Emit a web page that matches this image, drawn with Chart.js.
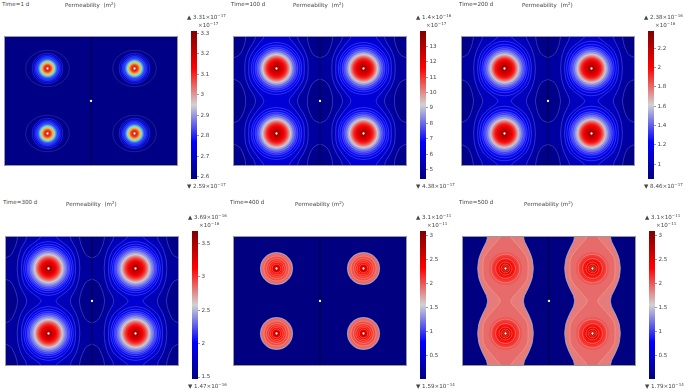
<!DOCTYPE html>
<html lang="en">
<head>
  <meta charset="UTF-8">
  <title>Permeability</title>
  <script src="https://cdn.jsdelivr.net/npm/chart.js"></script>
  <style>
    html, body { margin: 0; padding: 0; background: #fff; }
    body { position: relative; width: 685px; height: 390px; overflow: hidden; font-family: "DejaVu Sans", sans-serif; color: #444; }
    canvas { position: absolute; }
    .lbl { position: absolute; white-space: pre; font-size: 5.6px; line-height: 8px; }
    .lbl sup { font-size: 4px; line-height: 0; vertical-align: 2px; }
  </style>
</head>
<body>
  <script>
    // Chart values
    const timeLabels = ['Time=1 d', 'Time=100 d', 'Time=200 d', 'Time=300 d', 'Time=400 d', 'Time=500 d'];
    const titles = ['Permeability  (m<sup>2</sup>)', 'Permeability  (m<sup>2</sup>)', 'Permeability  (m<sup>2</sup>)',
      'Permeability  (m<sup>2</sup>)', 'Permeability (m<sup>2</sup>)', 'Permeability (m<sup>2</sup>)'];
    const maxLabels = ['3.31×10<sup>−17</sup>', '1.4×10<sup>−16</sup>', '2.38×10<sup>−16</sup>', '3.69×10<sup>−16</sup>', '3.1×10<sup>−11</sup>', '3.1×10<sup>−11</sup>'];
    const minLabels = ['2.59×10<sup>−17</sup>', '4.38×10<sup>−17</sup>', '8.46×10<sup>−17</sup>', '1.47×10<sup>−16</sup>', '1.59×10<sup>−14</sup>', '1.79×10<sup>−14</sup>'];
    const multipliers = ['×10<sup>−17</sup>', '×10<sup>−17</sup>', '×10<sup>−16</sup>', '×10<sup>−16</sup>', '×10<sup>−11</sup>', '×10<sup>−11</sup>'];
    const barMins = [2.59, 4.38, 0.846, 1.47, 0.00159, 0.00179];
    const barMaxs = [3.31, 14, 2.38, 3.69, 3.1, 3.1];

    const ticks1 = [2.6, 2.7, 2.8, 2.9, 3, 3.1, 3.2, 3.3];
    const ticks100 = [5, 6, 7, 8, 9, 10, 11, 12, 13];
    const ticks200 = [1, 1.2, 1.4, 1.6, 1.8, 2, 2.2];
    const ticks300 = [1.5, 2, 2.5, 3, 3.5];
    const ticks400 = [0.5, 1, 1.5, 2, 2.5, 3];
    const ticks500 = [0.5, 1, 1.5, 2, 2.5, 3];

    // well and centre positions in the 400 x 300 domain
    const wellX = [100, 300, 100, 300];
    const wellY = [75, 75, 225, 225];
    const dotX = [200, 100, 300, 100, 300];
    const dotY = [150, 75, 75, 225, 225];

    // background level, then open contours as [dx, dy] offsets from a well, one quadrant
    const base1 = 2.6, base100 = 4.6, base200 = 0.88, base300 = 1.52, base400 = 0.002, base500 = 0.002;

    const arcs100 = [
      [[100, 24], [86, 31], [77, 46], [72, 62], [71, 75]],
      [[73, 0], [71, 23], [62, 46], [53, 60], [49, 70], [48, 75]],
      [[64, 0], [62, 23], [52, 42], [38, 60], [31, 69], [29, 75]]];
    const arcLevels100 = [5.0, 5.5, 6.0];
    const arcs200 = [
      [[100, 25], [86, 32], [77, 48], [73, 63], [71, 75]],
      [[71, 0], [69, 23], [62, 46], [54, 62], [51, 70], [50, 75]],
      [[62, 0], [59, 23], [48, 45], [28, 62], [18, 70], [15, 75]]];
    const arcLevels200 = [0.95, 1.03, 1.1];
    const arcs300 = [
      [[100, 24], [87, 31], [78, 47], [73, 62], [71, 75]],
      [[72, 0], [70, 23], [63, 46], [54, 62], [51, 70], [50, 75]],
      [[62, 0], [60, 23], [50, 45], [30, 62], [20, 70], [17, 75]]];
    const arcLevels300 = [1.6, 1.72, 1.83];
    const arcs500 = [
      [[64, 0], [61, 23], [52, 46], [44, 62], [42, 70], [41, 75]],
      [[52, 0], [50, 23], [38, 42], [22, 60], [14, 70], [12, 75]]];
    const arcLevels500 = [1.87, 1.93];

    // closed contours round a well
    const ringX1 = [50, 35, 31, 28, 25];
    const ringY1 = [42, 35, 31, 28, 25];
    const ringX100 = [58, 54, 49, 45, 41, 36];
    const ringY100 = [60, 54, 49, 45, 41, 36];
    const ringX200 = [57, 52, 48, 45, 41, 37, 34];
    const ringY200 = [63, 56, 50, 46, 42, 38, 34];
    const ringX300 = [57, 53, 49, 46, 42, 39, 36];
    const ringY300 = [62, 56, 51, 47, 43, 39, 36];
    const ringX400 = [37, 29, 23, 18, 14, 10];
    const ringY400 = [37, 29, 23, 18, 14, 10];
    const ringX500 = [33, 23, 15, 10, 6];
    const ringY500 = [33, 23, 15, 10, 6];

    // radial profile of the hot spot
    const coreR1 = [0, 3, 8, 12, 16, 23, 30, 38];
    const coreV1 = [3.31, 3.25, 3.12, 3.0, 2.9, 2.76, 2.68, 2.6];
    const coreTint1 = ['#b00000', '#d81818', '#f04020', '#f8b040', '#90e0c0', '#2040ff', '#0000d8', '#00009a'];
    const coreR100 = [0, 8, 16, 22, 27, 32, 36, 40, 44, 49, 54, 60];
    const coreV100 = [13.7, 12.8, 12, 11.2, 10.3, 9.3, 8.5, 7.9, 7.4, 7, 6.6, 6];
    const coreR200 = [0, 8, 16, 22, 27, 32, 36, 40, 44, 49, 54, 60];
    const coreV200 = [2.34, 2.2, 2.07, 1.95, 1.8, 1.64, 1.5, 1.42, 1.34, 1.27, 1.2, 1.1];
    const coreR300 = [0, 8, 16, 22, 27, 32, 36, 40, 44, 49, 54, 60];
    const coreV300 = [3.63, 3.4, 3.2, 3.02, 2.82, 2.6, 2.42, 2.3, 2.2, 2.08, 1.97, 1.83];
    const coreR400 = [0, 3, 8, 14, 21, 29, 35.5, 36.5, 37];
    const coreV400 = [3, 2.7, 2.45, 2.3, 2.12, 1.98, 1.9, 1.7, 1.3];
    const coreR500 = [0, 4, 9, 15, 23, 33, 40];
    const coreV500 = [3.1, 2.8, 2.5, 2.4, 2.2, 2.05, 1.93];

    // layout: canvas boxes in page pixels
    const panelBoxes = [[4, 36], [233, 36], [461, 36], [5, 236], [233, 236], [462, 236]];
    const panelW = 174, panelH = 130;
    const barBoxes = [[191, 31], [420, 31], [648, 31], [192, 231], [420, 231], [649, 231]];
    const barW = 6, barH = 148;
    const timePos = [[2, 0], [231, 0], [459, 0], [3, 198], [230, 198], [459, 198]];
    const titlePos = [[65, 1], [293, 1], [522, 1], [66, 200], [295, 200], [524, 200]];
    const maxPos = [[187, 13], [416, 13], [644, 13], [188, 213], [416, 213], [645, 213]];
    const multPos = [[198, 21], [426, 21], [655, 21], [199, 221], [427, 221], [656, 221]];
    const minPos = [[187, 182], [416, 182], [644, 182], [188, 382], [416, 382], [645, 382]];

    const lineBlue = 'rgba(190,205,255,.33)';
    const lineFaint = 'rgba(190,205,255,.2)';
    const lineWarm = 'rgba(255,185,130,.55)';
    const panels = [
      { base: base1, arcs: [], arcLevels: [], ringX: ringX1, ringY: ringY1, coreR: coreR1, coreV: coreV1, coreTint: coreTint1, ticks: ticks1, line: lineFaint },
      { base: base100, arcs: arcs100, arcLevels: arcLevels100, ringX: ringX100, ringY: ringY100, coreR: coreR100, coreV: coreV100, ticks: ticks100, line: lineBlue },
      { base: base200, arcs: arcs200, arcLevels: arcLevels200, ringX: ringX200, ringY: ringY200, coreR: coreR200, coreV: coreV200, ticks: ticks200, line: lineBlue },
      { base: base300, arcs: arcs300, arcLevels: arcLevels300, ringX: ringX300, ringY: ringY300, coreR: coreR300, coreV: coreV300, ticks: ticks300, line: lineBlue },
      { base: base400, arcs: [], arcLevels: [], ringX: ringX400, ringY: ringY400, coreR: coreR400, coreV: coreV400, ticks: ticks400, line: lineWarm, rim: '#9db8dc' },
      { base: base500, arcs: arcs500, arcLevels: arcLevels500, ringX: ringX500, ringY: ringY500, coreR: coreR500, coreV: coreV500, ticks: ticks500, line: lineWarm, rim: '#9db8dc' }
    ];

    // blue - grey - red wave colour table
    const waveStops = [[0, 0, 0, 128], [0.25, 0, 0, 255], [0.5, 210, 210, 210], [0.75, 255, 0, 0], [1, 128, 0, 0]];
    function waveColor(f) {
      f = Math.min(1, Math.max(0, f));
      let i = 0;
      while (i < waveStops.length - 2 && f > waveStops[i + 1][0]) i++;
      const a = waveStops[i], b = waveStops[i + 1];
      const t = (f - a[0]) / (b[0] - a[0]);
      return `rgb(${[1, 2, 3].map(k => Math.round(a[k] + (b[k] - a[k]) * t)).join(',')})`;
    }

    // one quadrant of a ring as [dx, dy]
    function ringArc(rx, ry) {
      const arc = [];
      for (let deg = 0; deg <= 90; deg += 15) {
        arc.push([rx * Math.cos(deg * Math.PI / 180), ry * Math.sin(deg * Math.PI / 180)]);
      }
      return arc;
    }

    // mirror a quadrant arc into the four quadrants of the given wells
    function mirrorArc(arc, wells) {
      const data = [], centers = [];
      wells.forEach(w => {
        [[1, 1], [-1, 1], [-1, -1], [1, -1]].forEach(s => {
          arc.forEach(p => data.push({ x: wellX[w] + s[0] * p[0], y: wellY[w] + s[1] * p[1] }));
          data.push({ x: null, y: null });
          centers.push([wellX[w], wellY[w]]);
        });
      });
      return { data, centers };
    }

    // fills each mirrored arc back to its well, before the line is stroked
    const regionFill = {
      id: 'regionFill',
      beforeDatasetDraw(chart, args) {
        const ds = chart.data.datasets[args.index];
        if (!ds.region) return;
        const ctx = chart.ctx, sx = chart.scales.x, sy = chart.scales.y;
        ctx.save();
        ctx.fillStyle = typeof ds.region === 'function' ? ds.region(chart, ds) : ds.region;
        ctx.beginPath();
        let prev = null, first = null, c = 0;
        args.meta.data.forEach(pt => {
          if (pt.skip) {
            const cx = sx.getPixelForValue(ds.centers[c][0]), cy = sy.getPixelForValue(ds.centers[c][1]);
            ctx.lineTo(cx, prev.y);
            ctx.lineTo(cx, cy);
            ctx.lineTo(first.x, cy);
            ctx.closePath();
            prev = first = null;
            c++;
            return;
          }
          if (!prev) {
            ctx.moveTo(pt.x, pt.y);
            first = pt;
          } else {
            ctx.bezierCurveTo(prev.cp2x, prev.cp2y, pt.cp1x, pt.cp1y, pt.x, pt.y);
          }
          prev = pt;
        });
        ctx.fill();
        ctx.restore();
      }
    };

    // background of the field and its frame
    const fieldFrame = {
      id: 'fieldFrame',
      beforeDatasetsDraw(chart, args, opts) {
        const a = chart.chartArea;
        chart.ctx.fillStyle = opts.color;
        chart.ctx.fillRect(a.left, a.top, a.width, a.height);
      },
      afterDraw(chart) {
        const a = chart.chartArea;
        chart.ctx.strokeStyle = '#9a9a9a';
        chart.ctx.lineWidth = 1;
        chart.ctx.strokeRect(a.left + 0.5, a.top + 0.5, a.width - 1, a.height - 1);
      }
    };

    function addCanvas(box, w, h) {
      const c = document.createElement('canvas');
      c.width = w;
      c.height = h;
      c.style.left = box[0] + 'px';
      c.style.top = box[1] + 'px';
      c.style.width = w + 'px';
      c.style.height = h + 'px';
      document.body.appendChild(c);
      return c.getContext('2d');
    }

    function addLabel(pos, html) {
      const d = document.createElement('div');
      d.className = 'lbl';
      d.style.left = pos[0] + 'px';
      d.style.top = pos[1] + 'px';
      d.innerHTML = html;
      document.body.appendChild(d);
    }

    function lineSet(arc, color, width) {
      const m = mirrorArc(arc, [0, 1, 2, 3]);
      return { data: m.data, centers: m.centers, borderColor: color, borderWidth: width, pointRadius: 0, tension: 0.35 };
    }

    function drawField(i) {
      const p = panels[i];
      const lo = barMins[i], hi = barMaxs[i];
      const color = v => waveColor((v - lo) / (hi - lo));

      const fills = p.arcs.map((a, k) => {
        const d = lineSet(a, 'transparent', 0);
        d.region = color(p.arcLevels[k]);
        return d;
      });

      // hot spot: a disc per well with a radial gradient
      const coreMax = p.coreR[p.coreR.length - 1];
      const cores = wellX.map((wx, w) => {
        const m = mirrorArc(ringArc(coreMax, coreMax), [w]);
        return {
          data: m.data, centers: m.centers, borderColor: 'transparent', borderWidth: 0, pointRadius: 0, tension: 0.35,
          region(chart) {
            const cx = chart.scales.x.getPixelForValue(wx), cy = chart.scales.y.getPixelForValue(wellY[w]);
            const rp = Math.abs(chart.scales.x.getPixelForValue(coreMax) - chart.scales.x.getPixelForValue(0));
            const g = chart.ctx.createRadialGradient(cx, cy, 0, cx, cy, rp);
            p.coreR.forEach((r, k) => g.addColorStop(r / coreMax, p.coreTint ? p.coreTint[k] : color(p.coreV[k])));
            return g;
          }
        };
      });

      const shapes = p.arcs.concat(p.ringX.map((rx, k) => ringArc(rx, p.ringY[k])));
      const lines = shapes.map((a, k) => lineSet(a, p.rim && k === 0 ? p.rim : p.line, 0.75));
      const midLine = { data: [{ x: 200, y: 0 }, { x: 200, y: 300 }], borderColor: 'rgba(0,0,30,.75)', borderWidth: 0.9, pointRadius: 0 };
      const dots = {
        data: dotX.map((x, k) => ({ x, y: dotY[k] })), showLine: false,
        pointRadius: 1.15, pointBackgroundColor: '#fff', pointBorderWidth: 0
      };

      // first dataset is drawn last
      const datasets = [dots, midLine].concat(lines.reverse(), cores, fills.reverse());
      new Chart(addCanvas(panelBoxes[i], panelW, panelH), {
        type: 'line',
        data: { datasets },
        options: {
          responsive: false,
          animation: false,
          events: [],
          layout: { autoPadding: false },
          scales: {
            x: { type: 'linear', min: 0, max: 400, display: false },
            y: { type: 'linear', min: 0, max: 300, display: false }
          },
          plugins: { legend: { display: false }, tooltip: { enabled: false }, fieldFrame: { color: color(p.base) } }
        },
        plugins: [fieldFrame, regionFill]
      });
    }

    function drawBar(i) {
      const lo = barMins[i], hi = barMaxs[i], t = panels[i].ticks;
      const pad = 6, canvasW = 24;
      new Chart(addCanvas([barBoxes[i][0], barBoxes[i][1] - pad], canvasW, barH + 2 * pad), {
        type: 'bar',
        data: {
          labels: ['k'],
          datasets: [{
            data: [[lo, hi]],
            barPercentage: 1,
            categoryPercentage: 1,
            backgroundColor(ctx) {
              const a = ctx.chart.chartArea;
              if (!a) return '#000';
              const g = ctx.chart.ctx.createLinearGradient(0, a.bottom, 0, a.top);
              waveStops.forEach(s => g.addColorStop(s[0], waveColor(s[0])));
              return g;
            }
          }]
        },
        options: {
          responsive: false,
          animation: false,
          events: [],
          layout: { padding: { top: pad, bottom: pad } },
          scales: {
            x: { display: false },
            y: {
              position: 'right',
              min: lo,
              max: hi,
              afterFit(scale) { scale.width = canvasW - barW; },
              afterBuildTicks(scale) { scale.ticks = t.map(value => ({ value })); },
              border: { display: false },
              grid: { drawOnChartArea: false, tickLength: 2, color: '#555', lineWidth: 0.6 },
              ticks: {
                padding: 1.5,
                autoSkip: false,
                color: '#444',
                font: { family: '"DejaVu Sans"', size: 5.6 },
                callback: v => String(v)
              }
            }
          },
          plugins: { legend: { display: false }, tooltip: { enabled: false } }
        }
      });
    }

    panels.forEach((p, i) => {
      drawField(i);
      drawBar(i);
      addLabel(timePos[i], timeLabels[i]);
      addLabel(titlePos[i], titles[i]);
      addLabel(maxPos[i], '▲ ' + maxLabels[i]);
      addLabel(multPos[i], multipliers[i]);
      addLabel(minPos[i], '▼ ' + minLabels[i]);
    });
  </script>
</body>
</html>
